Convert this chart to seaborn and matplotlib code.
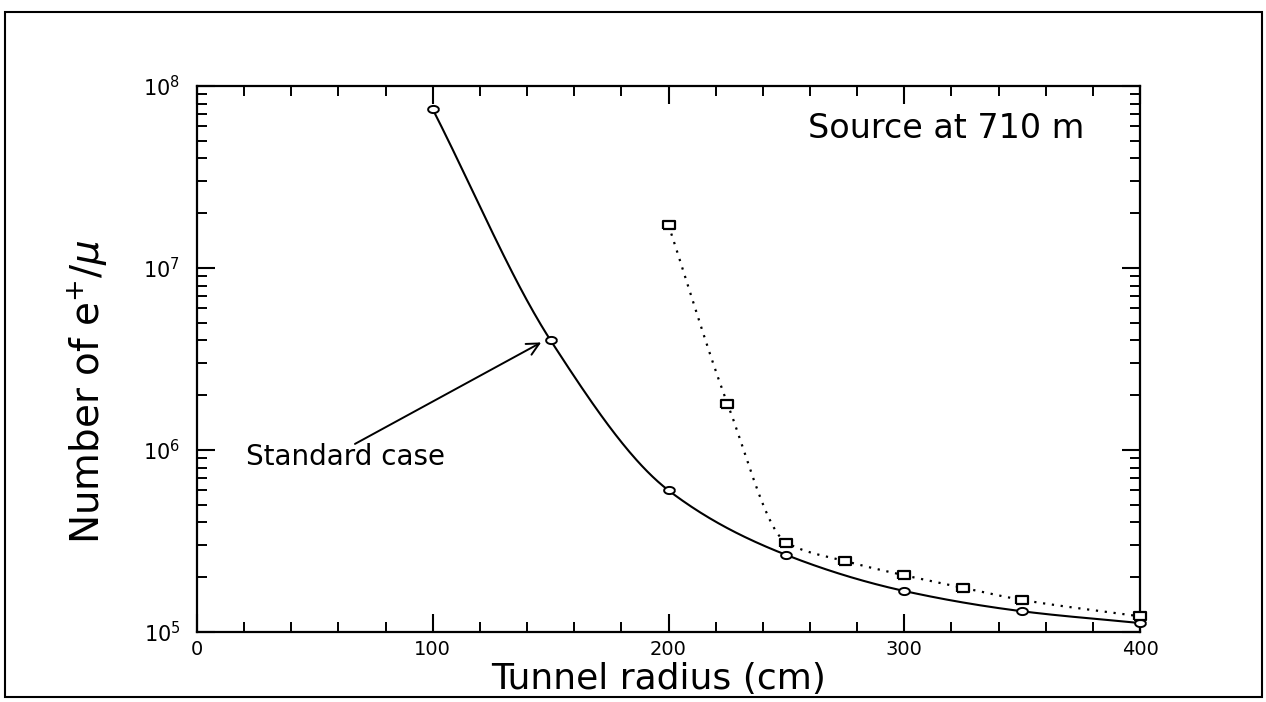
import numpy as np
import matplotlib
matplotlib.use("Agg")
import matplotlib.pyplot as plt
from matplotlib.ticker import MultipleLocator, LogLocator, NullFormatter, LogFormatterSciNotation
from matplotlib.patches import Rectangle
import seaborn as sns

# ---- data ----
radius_circ = [100, 150, 200, 250, 300, 350, 400]
count_circ = [7.45e7, 4.0e6, 6.0e5, 2.65e5, 1.68e5, 1.3e5, 1.12e5]

radius_sq = [200, 225, 250, 275, 300, 325, 350, 400]
count_sq = [1.72e7, 1.8e6, 3.1e5, 2.45e5, 2.05e5, 1.75e5, 1.5e5, 1.22e5]

x_ticks = [0, 100, 200, 300, 400]
title_text = "Source at 710 m"
note_text = "Standard case"
x_label = "Tunnel radius (cm)"
y_label = r"Number of e$^{+}$/$\mu$"


def pchip(x, y, xn):
    """Monotone cubic (Fritsch-Carlson) through the given points."""
    x = np.asarray(x, float)
    y = np.asarray(y, float)
    h = np.diff(x)
    d = np.diff(y) / h
    m = np.zeros_like(y)
    m[0], m[-1] = d[0], d[-1]
    for k in range(1, len(x) - 1):
        if d[k - 1] * d[k] <= 0:
            m[k] = 0.0
        else:
            w1 = 2 * h[k] + h[k - 1]
            w2 = h[k] + 2 * h[k - 1]
            m[k] = (w1 + w2) / (w1 / d[k - 1] + w2 / d[k])
    idx = np.clip(np.searchsorted(x, xn) - 1, 0, len(x) - 2)
    t = (xn - x[idx]) / h[idx]
    h00 = 2 * t**3 - 3 * t**2 + 1
    h10 = t**3 - 2 * t**2 + t
    h01 = -2 * t**3 + 3 * t**2
    h11 = t**3 - t**2
    return h00 * y[idx] + h10 * h[idx] * m[idx] + h01 * y[idx + 1] + h11 * h[idx] * m[idx + 1]


xc = np.linspace(radius_circ[0], radius_circ[-1], 400)
yc = 10 ** pchip(radius_circ, np.log10(count_circ), xc)
xs = np.linspace(radius_sq[0], radius_sq[-1], 400)
ys = 10 ** pchip(radius_sq, np.log10(count_sq), xs)

sns.set_theme(style="ticks")
plt.rcParams["font.family"] = ["DejaVu Sans"]
plt.rcParams["mathtext.fontset"] = "dejavusans"

fig = plt.figure(figsize=(12.66, 7.02), dpi=100)
ax = fig.add_axes([0.1556, 0.0997, 0.7449, 0.7778])

sns.lineplot(x=xc, y=yc, ax=ax, color="black", linewidth=1.5, sort=False)
sns.lineplot(x=xs, y=ys, ax=ax, color="black", linewidth=1.6, sort=False,
             linestyle=(0, (1, 3)))

t = np.linspace(0, 2 * np.pi, 31)
ellipse = list(zip(1.35 * np.cos(t), 0.9 * np.sin(t)))
rect = [(-1.4, -1), (1.4, -1), (1.4, 1), (-1.4, 1), (-1.4, -1)]

sns.scatterplot(x=radius_circ, y=count_circ, ax=ax, marker=ellipse, s=60,
                facecolor="white", edgecolor="black", linewidth=1.4, zorder=5,
                clip_on=False)
sns.scatterplot(x=radius_sq, y=count_sq, ax=ax, marker=rect, s=75,
                facecolor="white", edgecolor="black", linewidth=1.6, zorder=5,
                clip_on=False)

ax.set_yscale("log")
ax.set_xlim(0, 400)
ax.set_ylim(1e5, 1e8)

ax.xaxis.set_minor_locator(MultipleLocator(20))
ax.set_xticks(x_ticks)
ax.set_xticklabels([str(v) for v in x_ticks])
ax.yaxis.set_major_locator(LogLocator(base=10, numticks=10))
ax.yaxis.set_minor_locator(LogLocator(base=10, subs=np.arange(2, 10), numticks=20))
ax.yaxis.set_major_formatter(LogFormatterSciNotation())
ax.yaxis.set_minor_formatter(NullFormatter())

ax.tick_params(which="both", direction="in", top=True, right=True, colors="black")
ax.tick_params(which="major", length=13, width=1.5)
ax.tick_params(which="minor", length=7, width=1.4)
ax.tick_params(axis="x", which="major", labelsize=14, pad=6)
ax.tick_params(axis="y", which="major", labelsize=15, pad=12)

for sp in ax.spines.values():
    sp.set_linewidth(1.6)
    sp.set_color("black")
    sp.set_visible(True)

ax.set_xlabel(x_label, fontsize=26, color="black", va="center")
ax.xaxis.set_label_coords(0.489, -0.086)
ax.set_ylabel(y_label, fontsize=28, color="black", va="center")
ax.yaxis.set_label_coords(-0.1156, 0.44)

ax.text(0.648, 0.923, title_text, transform=ax.transAxes, fontsize=24,
        ha="left", va="center", color="black")

ax.annotate("", xy=(146, 3.9e6), xytext=(67, 1.08e6),
            arrowprops=dict(arrowstyle="->", color="black", lw=1.4,
                            mutation_scale=22, shrinkA=0, shrinkB=0))
ax.text(21, 9.2e5, note_text, fontsize=20, ha="left", va="center", color="black")

ax.grid(False)

# figure border like the scanned frame
fig.patches.append(Rectangle((5 / 1266, 1 - 697 / 702), 1257 / 1266, (697 - 12) / 702,
                             transform=fig.transFigure, fill=False,
                             edgecolor="black", linewidth=1.5))

fig.savefig("out.png", dpi=100, facecolor="white")
